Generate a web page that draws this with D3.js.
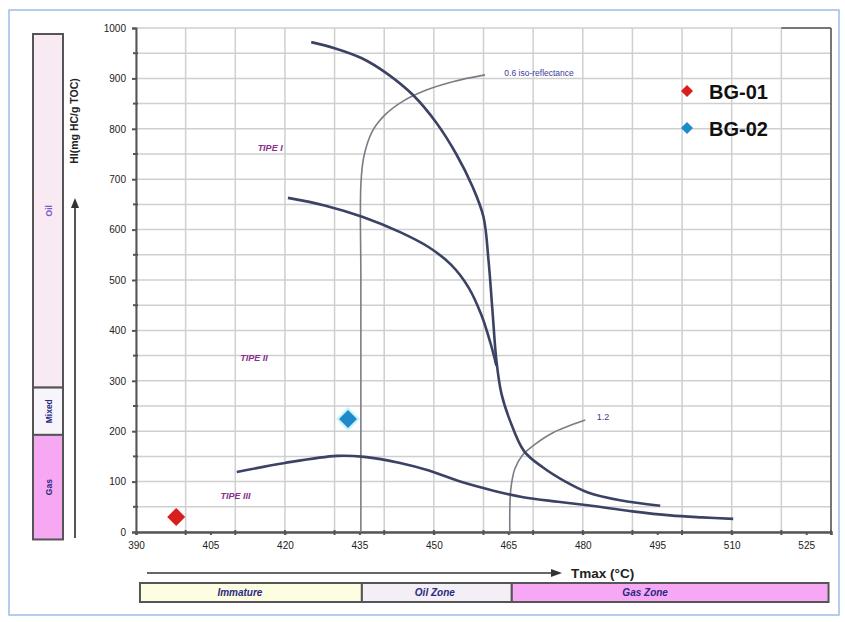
<!DOCTYPE html>
<html>
<head>
<meta charset="utf-8">
<script src="https://cdn.jsdelivr.net/npm/d3@7"></script>
<style>
  html, body { margin: 0; padding: 0; background: #fff; }
  svg { display: block; font-family: Arial, "Liberation Sans", sans-serif; }
</style>
</head>
<body>
<svg id="chart" width="845" height="622"></svg>
<script>
// ---------------- DATA ----------------
const xTickValues = [390, 405, 420, 435, 450, 465, 480, 495, 510, 525];
const yTickValues = [0, 100, 200, 300, 400, 500, 600, 700, 800, 900, 1000];

const typeI = [[425.3,972],[430,960],[435.5,940],[440.5,910],[445.8,867],[450.5,812],[454.5,750],[457.8,685],[460.0,625],[461.0,540],[461.8,440],[462.6,340],[463.6,275],[465.3,222],[468.2,160],[472,128],[476.5,100],[480.9,79],[487.5,63],[495.6,52]];
const typeII = [[420.6,663],[428,648],[435.7,625],[443.2,595],[449,565],[453.5,530],[457,485],[459.6,430],[461.4,375],[462.6,330]];
const typeIII = [[410.3,119],[420,137],[430.5,151],[436,149],[443.2,137],[449,122],[455.3,100],[462,82],[468,69],[475,60],[481,53],[490,41],[497.6,33],[504,29],[510.3,26]];
const iso06 = [[435.3,0],[435.3,250],[435.3,500],[435.3,690],[435.9,745],[437.6,795],[440.2,828],[443.8,855],[448.5,877],[454,894],[460.3,907]];
const iso12 = [[465.3,0],[465.3,40],[465.5,85],[466.3,125],[467.8,152],[470.5,175],[474,197],[480.5,222]];

const samples = ["BG-01", "BG-02"];
const sampleTmax = [398.1, 432.7];
const sampleHI = [30, 224];
const sampleColors = ["#d91e1e", "#1f8ac9"];

const typeLabels = ["TIPE I", "TIPE II", "TIPE III"];
const typeLabelPos = [[414.5, 756], [411, 340], [407, 65]];

const hiZones = ["Oil", "Mixed", "Gas"];
const hiZoneBounds = [[1000, 290], [290, 195], [195, -15]];
const hiZoneColors = ["#f9e9f2", "#f7f5fb", "#f7a8f2"];

const tmaxZones = ["Immature", "Oil Zone", "Gas Zone"];
const tmaxZoneBounds = [[390.8, 435.5], [435.5, 465.7], [465.7, 529.5]];
const tmaxZoneColors = ["#fdfde2", "#f4eef7", "#f7a8f5"];

// ---------------- LAYOUT ----------------
const svg = d3.select("#chart");
const x = d3.scaleLinear().domain([390, 530]).range([136, 831]);
const y = d3.scaleLinear().domain([0, 1000]).range([532, 28]);

// outer frame
svg.append("rect").attr("x", 9).attr("y", 10).attr("width", 830).attr("height", 605)
  .attr("fill", "none").attr("stroke", "#9dbde6").attr("stroke-width", 1.5);

// grid
const gridX = d3.range(390, 531, 10);
const gridY = d3.range(0, 1001, 50);
svg.append("g").selectAll("line").data(gridX).join("line")
  .attr("x1", d => x(d)).attr("x2", d => x(d)).attr("y1", y(0)).attr("y2", y(1000))
  .attr("stroke", "#cfcfcf").attr("stroke-width", 1.5);
svg.append("g").selectAll("line").data(gridY).join("line")
  .attr("x1", x(390)).attr("x2", x(530)).attr("y1", d => y(d)).attr("y2", d => y(d))
  .attr("stroke", "#cfcfcf").attr("stroke-width", 1.5);

// right border
svg.append("line").attr("x1", x(530)).attr("x2", x(530)).attr("y1", y(0)).attr("y2", y(1000))
  .attr("stroke", "#555").attr("stroke-width", 1.5);
svg.append("line").attr("x1", x(520)).attr("x2", x(530)).attr("y1", y(1000)).attr("y2", y(1000))
  .attr("stroke", "#555").attr("stroke-width", 1.5);

// axes
const yAxis = d3.axisLeft(y).tickValues(yTickValues).tickFormat(d3.format("d")).tickSize(4).tickPadding(6);
const gy = svg.append("g").attr("transform", `translate(${x(390)},0)`).call(yAxis);
gy.select(".domain").attr("stroke", "#555").attr("stroke-width", 2);
gy.selectAll(".tick line").attr("stroke", "#555").attr("stroke-width", 2);
gy.selectAll("text").attr("font-size", 10).attr("fill", "#222");
// minor y ticks
svg.append("g").selectAll("line").data(d3.range(50, 1000, 100)).join("line")
  .attr("x1", x(390) - 3).attr("x2", x(390) + 2).attr("y1", d => y(d)).attr("y2", d => y(d))
  .attr("stroke", "#555").attr("stroke-width", 2);

const xAxis = d3.axisBottom(x).tickValues(xTickValues).tickSize(3).tickPadding(7);
const gx = svg.append("g").attr("transform", `translate(0,${y(0)})`).call(xAxis);
gx.select(".domain").attr("stroke", "#555").attr("stroke-width", 2.5);
gx.selectAll(".tick line").attr("stroke", "#555").attr("stroke-width", 2);
gx.selectAll("text").attr("font-size", 10).attr("fill", "#222");
svg.append("g").selectAll("line").data(d3.range(400, 531, 10)).join("line")
  .attr("x1", d => x(d)).attr("x2", d => x(d)).attr("y1", y(0) - 2).attr("y2", y(0) + 3)
  .attr("stroke", "#555").attr("stroke-width", 2);

// iso-reflectance lines
const lineCR = d3.line().x(d => x(d[0])).y(d => y(d[1])).curve(d3.curveCatmullRom.alpha(0.5));
[iso06, iso12].forEach(pts => {
  svg.append("path").attr("d", lineCR(pts)).attr("fill", "none")
    .attr("stroke", "#7a7d86").attr("stroke-width", 1.6);
});
svg.append("text").attr("x", x(464.2)).attr("y", y(905)).attr("font-size", 8.5)
  .attr("fill", "#3b3b9a").text("0.6 iso-reflectance");
svg.append("text").attr("x", x(482.8)).attr("y", y(222)).attr("font-size", 9)
  .attr("fill", "#3b3b9a").text("1.2");

// kerogen type curves
[typeI, typeII, typeIII].forEach(pts => {
  svg.append("path").attr("d", lineCR(pts)).attr("fill", "none")
    .attr("stroke", "#3c4264").attr("stroke-width", 2.6).attr("stroke-linejoin", "round");
});
svg.append("g").selectAll("text").data(typeLabels).join("text")
  .attr("x", (d, i) => x(typeLabelPos[i][0])).attr("y", (d, i) => y(typeLabelPos[i][1]))
  .attr("font-size", 9).attr("font-style", "italic").attr("font-weight", "bold")
  .attr("fill", "#8a2d8e").text(d => d);

// samples
function diamondPath(r) { return `M0,${-r}L${r},0L0,${r}L${-r},0Z`; }
svg.append("path").attr("d", diamondPath(12))
  .attr("transform", `translate(${x(sampleTmax[1])},${y(sampleHI[1])})`).attr("fill", "#c8f4fb");
svg.append("g").selectAll("path").data(samples).join("path")
  .attr("d", diamondPath(9))
  .attr("transform", (d, i) => `translate(${x(sampleTmax[i])},${y(sampleHI[i])})`)
  .attr("fill", (d, i) => sampleColors[i]);

// legend
const leg = svg.append("g").selectAll("g").data(samples).join("g")
  .attr("transform", (d, i) => `translate(687,${91 + i * 37})`);
leg.append("path").attr("d", diamondPath(6)).attr("fill", (d, i) => sampleColors[i]);
leg.append("text").attr("x", 22).attr("y", 8).attr("font-size", 20).attr("font-weight", "bold")
  .attr("fill", "#111").text(d => d);

// left HI zone bar
const yb = d3.scaleLinear().domain([0, 1000]).range([532, 34]);
const zg = svg.append("g");
zg.selectAll("rect").data(hiZones).join("rect")
  .attr("x", 33).attr("width", 30)
  .attr("y", (d, i) => yb(hiZoneBounds[i][0]))
  .attr("height", (d, i) => yb(hiZoneBounds[i][1]) - yb(hiZoneBounds[i][0]))
  .attr("fill", (d, i) => hiZoneColors[i]).attr("stroke", "#555").attr("stroke-width", 2);
zg.selectAll("text").data(hiZones).join("text")
  .attr("transform", (d, i) => `translate(52,${(yb(hiZoneBounds[i][0]) + yb(hiZoneBounds[i][1])) / 2}) rotate(-90)`)
  .attr("text-anchor", "middle").attr("font-size", 8.5).attr("font-weight", "bold")
  .attr("fill", (d, i) => i === 0 ? "#7a5ac8" : "#2a2a80").text(d => d);

// Y-axis title + arrow
svg.append("line").attr("x1", 75).attr("x2", 75).attr("y1", 538).attr("y2", 206)
  .attr("stroke", "#555").attr("stroke-width", 2);
svg.append("path").attr("d", "M75,198L71,208L79,208Z").attr("fill", "#333");
svg.append("text").attr("transform", "translate(78,121) rotate(-90)")
  .attr("text-anchor", "middle").attr("font-size", 10.5).attr("font-weight", "bold")
  .attr("fill", "#222").text("HI(mg HC/g TOC)");

// X-axis title + arrow
svg.append("line").attr("x1", 147).attr("x2", 553).attr("y1", 573).attr("y2", 573)
  .attr("stroke", "#666").attr("stroke-width", 2);
svg.append("path").attr("d", "M562,573L551,569L551,577Z").attr("fill", "#333");
svg.append("text").attr("x", 571).attr("y", 578).attr("font-size", 13.5).attr("font-weight", "bold")
  .attr("fill", "#222").text("Tmax (°C)");

// bottom maturity bar
const bg = svg.append("g");
bg.selectAll("rect").data(tmaxZones).join("rect")
  .attr("x", (d, i) => x(tmaxZoneBounds[i][0])).attr("y", 583)
  .attr("width", (d, i) => x(tmaxZoneBounds[i][1]) - x(tmaxZoneBounds[i][0])).attr("height", 19)
  .attr("fill", (d, i) => tmaxZoneColors[i]).attr("stroke", "#555").attr("stroke-width", 2);
bg.selectAll("text").data(tmaxZones).join("text")
  .attr("x", (d, i) => (x(tmaxZoneBounds[i][0]) + x(tmaxZoneBounds[i][1])) / 2 - (i === 0 ? 11 : i === 1 ? 2 : 25))
  .attr("y", 596).attr("text-anchor", "middle").attr("font-size", 10).attr("font-style", "italic")
  .attr("font-weight", "bold").attr("fill", "#2a2a80").text(d => d);
</script>
</body>
</html>
